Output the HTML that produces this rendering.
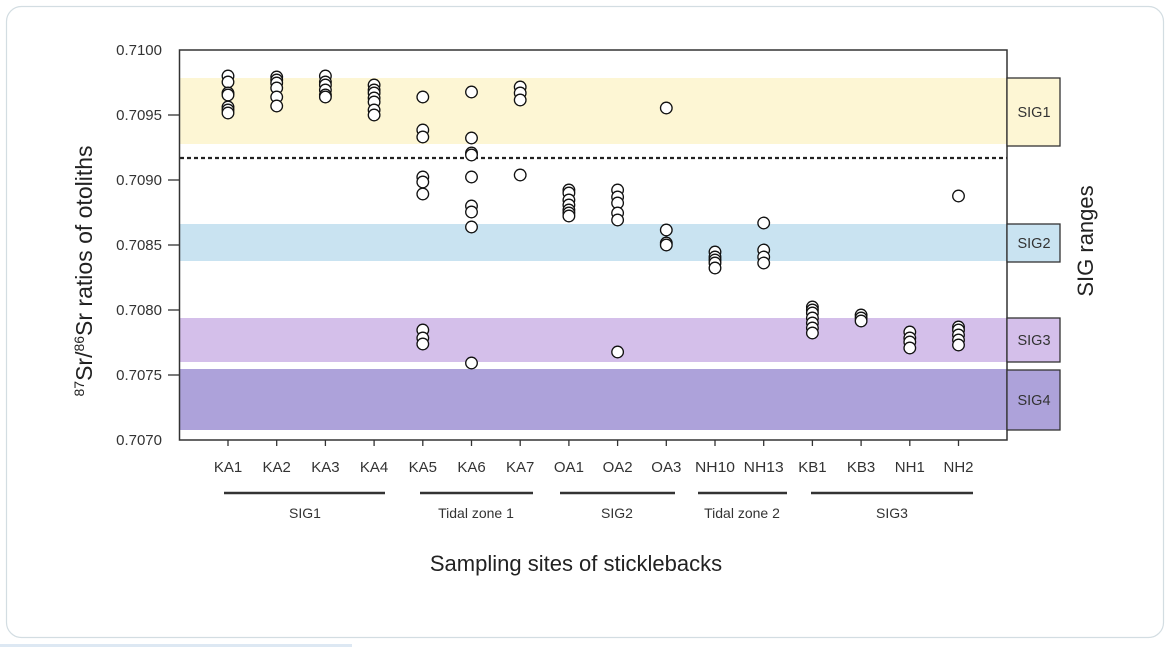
<!DOCTYPE html>
<html><head><meta charset="utf-8"><style>
html,body{margin:0;padding:0;background:#fff;width:1169px;height:647px;overflow:hidden}
svg{display:block;font-family:"Liberation Sans",sans-serif}
</style></head><body>
<svg width="1169" height="647" viewBox="0 0 1169 647" xmlns="http://www.w3.org/2000/svg">
<rect x="6.5" y="6.5" width="1157" height="631" rx="15" fill="#fff" stroke="#d3dde2" stroke-width="1.2"/>
<rect x="0" y="644" width="352" height="3" fill="#dde8f3"/>
<rect x="180" y="78" width="827" height="66" fill="#fdf6d4"/>
<rect x="180" y="224" width="827" height="37" fill="#c9e3f1"/>
<rect x="180" y="318" width="827" height="44" fill="#d4bfea"/>
<rect x="180" y="369" width="827" height="61" fill="#ada2da"/>
<line x1="180" y1="158" x2="1007" y2="158" stroke="#222" stroke-width="2.2" stroke-dasharray="4,3"/>
<rect x="179.5" y="50" width="827.5" height="390" fill="none" stroke="#333" stroke-width="1.5"/>
<g stroke="#333" stroke-width="1.3">
<rect x="1007" y="78" width="53" height="68" fill="#fdf6d4"/>
<rect x="1007" y="224" width="53" height="38" fill="#c9e3f1"/>
<rect x="1007" y="318" width="53" height="44" fill="#d4bfea"/>
<rect x="1007" y="370" width="53" height="60" fill="#ada2da"/>
</g>
<g font-size="14.5" fill="#333" text-anchor="middle">
<text x="1034" y="117">SIG1</text>
<text x="1034" y="248">SIG2</text>
<text x="1034" y="345">SIG3</text>
<text x="1034" y="405">SIG4</text>
</g>
<g stroke="#333" stroke-width="1.3">
<line x1="168" y1="115" x2="179" y2="115"/><line x1="168" y1="180" x2="179" y2="180"/>
<line x1="168" y1="245" x2="179" y2="245"/><line x1="168" y1="310" x2="179" y2="310"/>
<line x1="168" y1="375" x2="179" y2="375"/>
</g>
<g font-size="15" fill="#333" text-anchor="end">
<text x="162" y="55">0.7100</text><text x="162" y="120">0.7095</text>
<text x="162" y="185">0.7090</text><text x="162" y="250">0.7085</text>
<text x="162" y="315">0.7080</text><text x="162" y="380">0.7075</text>
<text x="162" y="445">0.7070</text>
</g>
<text transform="translate(92,271) rotate(-90)" font-size="23" fill="#222" text-anchor="middle"><tspan font-size="14" dy="-8">87</tspan><tspan dy="8">Sr/</tspan><tspan font-size="14" dy="-8">86</tspan><tspan dy="8">Sr ratios of otoliths</tspan></text>
<text transform="translate(1093,241) rotate(-90)" font-size="22" fill="#222" text-anchor="middle">SIG ranges</text>
<g id="xt" stroke="#333" stroke-width="1.3"></g>
<g font-size="15" fill="#333" text-anchor="middle">
<text x="228" y="472">KA1</text><text x="276.7" y="472">KA2</text><text x="325.4" y="472">KA3</text><text x="374.1" y="472">KA4</text>
<text x="422.8" y="472">KA5</text><text x="471.5" y="472">KA6</text><text x="520.2" y="472">KA7</text><text x="568.9" y="472">OA1</text>
<text x="617.6" y="472">OA2</text><text x="666.3" y="472">OA3</text><text x="715" y="472" textLength="40" lengthAdjust="spacingAndGlyphs">NH10</text><text x="763.7" y="472" textLength="40" lengthAdjust="spacingAndGlyphs">NH13</text>
<text x="812.4" y="472">KB1</text><text x="861.1" y="472">KB3</text><text x="909.8" y="472">NH1</text><text x="958.5" y="472">NH2</text>
</g>
<g stroke="#333" stroke-width="2.5">
<line x1="224" y1="493" x2="385" y2="493"/><line x1="420" y1="493" x2="533" y2="493"/>
<line x1="560" y1="493" x2="675" y2="493"/><line x1="698" y1="493" x2="787" y2="493"/>
<line x1="811" y1="493" x2="973" y2="493"/>
</g>
<g font-size="14" fill="#333" text-anchor="middle">
<text x="305" y="518">SIG1</text><text x="476" y="518">Tidal zone 1</text>
<text x="617" y="518">SIG2</text><text x="742" y="518">Tidal zone 2</text><text x="892" y="518">SIG3</text>
</g>
<text x="576" y="571" font-size="22" fill="#222" text-anchor="middle">Sampling sites of sticklebacks</text>
<g id="pts" fill="#fff" stroke="#111" stroke-width="1.3"></g>
<script>
var d=[[76,82,93,95,107,110,113],[77,80,83,88,97,106],[76,82,85,90,95,97],[85,90,93,98,102,110,115],
[97,130,137,177,182,194,330,338,344],[92,138,153,155,177,206,212,227,363],[87,93,100,175],
[190,193,200,205,210,213,216],[190,197,203,213,220,352],[108,230,243,245],[252,257,260,263,268],
[223,250,257,263],[307,310,313,318,323,328,333],[315,318,321],[332,338,342,348],[196,327,330,335,340,345]];
var ns="http://www.w3.org/2000/svg",g=document.getElementById('pts'),t=document.getElementById('xt');
d.forEach(function(a,i){var x=228+48.7*i;
var l=document.createElementNS(ns,'line');l.setAttribute('x1',x);l.setAttribute('x2',x);l.setAttribute('y1',440);l.setAttribute('y2',446);t.appendChild(l);
a.forEach(function(y){var c=document.createElementNS(ns,'circle');c.setAttribute('cx',x);c.setAttribute('cy',y);c.setAttribute('r',5.8);g.appendChild(c);});});
</script>
</svg>
</body></html>
